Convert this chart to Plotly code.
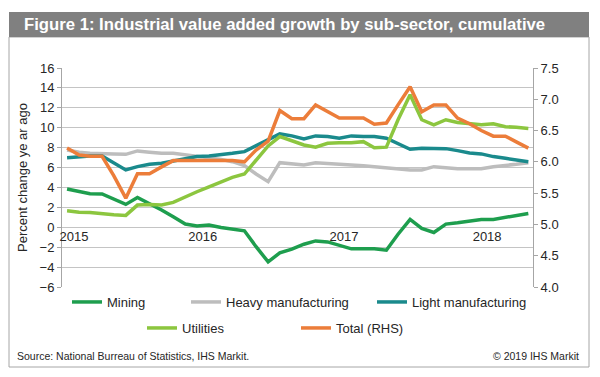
import plotly.graph_objects as go

# ---------------- data ----------------
months = [
    "2015-01-01", "2015-02-01", "2015-03-01", "2015-04-01", "2015-05-01", "2015-06-01",
    "2015-07-01", "2015-08-01", "2015-09-01", "2015-10-01", "2015-11-01", "2015-12-01",
    "2016-01-01", "2016-02-01", "2016-03-01", "2016-04-01", "2016-05-01", "2016-06-01",
    "2016-07-01", "2016-08-01", "2016-09-01", "2016-10-01", "2016-11-01", "2016-12-01",
    "2017-01-01", "2017-02-01", "2017-03-01", "2017-04-01", "2017-05-01", "2017-06-01",
    "2017-07-01", "2017-08-01", "2017-09-01", "2017-10-01", "2017-11-01", "2017-12-01",
    "2018-01-01", "2018-02-01", "2018-03-01", "2018-04-01",
]

mining = [3.84, 3.55, 3.36, 3.34, 2.83, 2.30, 3.00, 2.40, 1.73, 1.05,
          0.32, 0.12, 0.22, -0.02, -0.20, -0.35, -1.95, -3.48, -2.57, -2.20,
          -1.70, -1.37, -1.47, -1.80, -2.17, -2.17, -2.17, -2.30, -0.70, 0.79,
          -0.12, -0.52, 0.32, 0.45, 0.62, 0.79, 0.79, 0.99, 1.19, 1.39]

heavy = [7.77, 7.54, 7.43, 7.43, 7.37, 7.33, 7.67, 7.54, 7.43, 7.43,
         7.27, 7.10, 7.00, 6.82, 6.59, 6.20, 5.35, 4.58, 6.49, 6.36,
         6.26, 6.49, 6.39, 6.36, 6.26, 6.19, 6.09, 6.03, 5.89, 5.76,
         5.76, 6.09, 5.99, 5.89, 5.89, 5.89, 6.09, 6.19, 6.33, 6.49]

light = [6.99, 7.09, 7.16, 7.16, 6.43, 5.76, 6.09, 6.33, 6.43, 6.66,
         6.83, 7.10, 7.16, 7.27, 7.43, 7.60, 8.17, 8.84, 9.38, 9.18,
         8.88, 9.18, 9.11, 8.95, 9.18, 9.11, 9.11, 8.95, 8.37, 7.84,
         7.94, 7.94, 7.90, 7.70, 7.47, 7.37, 7.10, 6.93, 6.76, 6.59]

utilities = [1.66, 1.52, 1.49, 1.35, 1.25, 1.19, 2.23, 2.30, 2.23, 2.50,
             3.07, 3.57, 4.07, 4.52, 5.02, 5.35, 6.76, 8.17, 9.11, 8.71,
             8.27, 8.04, 8.44, 8.50, 8.50, 8.60, 7.98, 8.05, 10.80, 13.31,
             10.80, 10.29, 10.80, 10.52, 10.36, 10.29, 10.39, 10.10, 10.04, 9.93]

total = [6.22, 6.11, 6.09, 6.09, 5.78, 5.42, 5.81, 5.81, 5.92, 6.02,
         6.02, 6.02, 6.02, 6.02, 6.02, 6.00, 6.19, 6.33, 6.82, 6.69,
         6.69, 6.91, 6.81, 6.70, 6.70, 6.70, 6.60, 6.62, 6.91, 7.20,
         6.80, 6.91, 6.91, 6.70, 6.61, 6.50, 6.41, 6.41, 6.32, 6.22]

year_labels = ["2015", "2016", "2017", "2018"]
year_label_dates = ["2015-01-19", "2015-12-16", "2016-12-13", "2017-12-16"]

# ---------------- layout helpers ----------------
W, H = 600, 377
ML, MR, MT, MB = 62, 67, 68, 90
PW, PH = W - ML - MR, H - MT - MB


def px(x):
    return (x - ML) / PW


def py(y):
    return (H - MB - y) / PH


FONT = "Arial, Liberation Sans, sans-serif"
TXT = "#262626"
GRID = "#C4C4C4"

series = [
    ("Mining", mining, "#1E9E4E", "y", "legend", 67, 302),
    ("Heavy manufacturing", heavy, "#BDBDBD", "y", "legend2", 186, 302),
    ("Light manufacturing", light, "#1A8A8C", "y", "legend3", 372, 302),
    ("Utilities", utilities, "#8CC63F", "y", "legend4", 142, 328),
    ("Total (RHS)", total, "#EC7D3A", "y2", "legend5", 296, 328),
]

fig = go.Figure()
legends = {}
for name, vals, color, yax, leg, lx, ly in series:
    fig.add_trace(go.Scatter(
        x=months, y=vals, name=name, mode="lines", yaxis=yax,
        line=dict(color=color, width=3.5), legend=leg,
    ))
    legends[leg] = dict(
        x=px(lx), y=py(ly), xanchor="left", yanchor="middle",
        orientation="h", bgcolor="rgba(0,0,0,0)",
        font=dict(family=FONT, size=13, color=TXT),
        itemwidth=30,
    )

fig.update_layout(
    width=W, height=H,
    margin=dict(l=ML, r=MR, t=MT, b=MB),
    paper_bgcolor="white", plot_bgcolor="white",
    font=dict(family=FONT, size=13, color=TXT),
    showlegend=True,
    **legends,
    xaxis=dict(
        type="date",
        range=["2014-12-19", "2018-04-13"],
        showgrid=False, zeroline=False, showline=False,
        anchor="free", position=6 / 22,
        tickmode="array", tickvals=year_label_dates, ticktext=year_labels,
        ticks="", tickfont=dict(size=13, color=TXT),
    ),
    yaxis=dict(
        range=[-6, 16], dtick=2, tick0=0,
        showgrid=True, gridcolor=GRID, gridwidth=1,
        zeroline=False,
        showline=True, linecolor="#A6A6A6", linewidth=1,
        ticks="outside", ticklen=4, tickcolor="#A6A6A6",
        tickfont=dict(size=13, color=TXT),
        title=dict(text="Percent change ye ar ago", standoff=9,
                   font=dict(size=13, color=TXT)),
    ),
    yaxis2=dict(
        range=[4, 7.5], dtick=0.5, tick0=4, tickformat=".1f",
        overlaying="y", side="right",
        showgrid=False, zeroline=False,
        showline=True, linecolor="#A6A6A6", linewidth=1,
        ticks="outside", ticklen=4, tickcolor="#A6A6A6",
        tickfont=dict(size=13, color=TXT),
    ),
    shapes=[
        dict(type="rect", xref="paper", yref="paper",
             x0=px(9), x1=px(589), y0=py(367), y1=py(37),
             line=dict(color="#A6A6A6", width=1), fillcolor="rgba(0,0,0,0)", layer="below"),
        dict(type="rect", xref="paper", yref="paper",
             x0=px(9), x1=px(589), y0=py(37), y1=py(12),
             line=dict(width=0), fillcolor="#808080", layer="below"),
    ],
    annotations=[
        dict(text="<b>Figure 1: Industrial value added growth by sub-sector, cumulative</b>",
             xref="paper", yref="paper", x=px(22), y=py(25),
             xanchor="left", yanchor="middle", showarrow=False,
             font=dict(family=FONT, size=16.7, color="white")),
        dict(text="Source: National Burreau of Statistics, IHS Markit.",
             xref="paper", yref="paper", x=px(15), y=py(356),
             xanchor="left", yanchor="middle", showarrow=False,
             font=dict(family=FONT, size=10.5, color=TXT)),
        dict(text="© 2019 IHS Markit",
             xref="paper", yref="paper", x=px(581), y=py(356),
             xanchor="right", yanchor="middle", showarrow=False,
             font=dict(family=FONT, size=10.5, color=TXT)),
    ],
)

fig.write_html("out.html", config={"displayModeBar": False},
               post_script="document.body.style.margin='0';")
